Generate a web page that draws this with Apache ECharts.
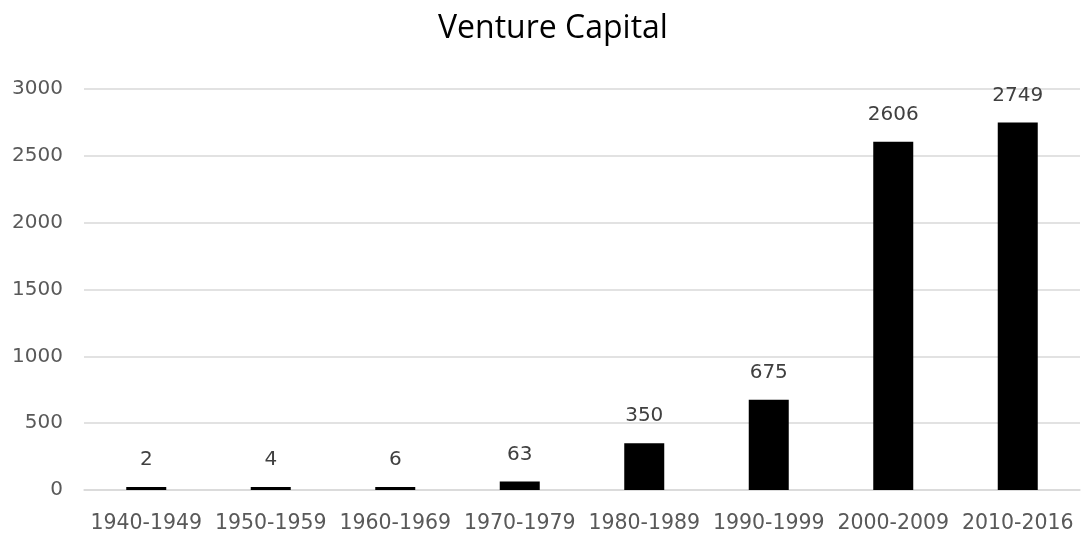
<!DOCTYPE html>
<html>
<head>
<meta charset="utf-8">
<script src="https://cdn.jsdelivr.net/npm/echarts@6/dist/echarts.min.js"></script>
<style>html,body{margin:0;padding:0;background:#fff;}#c{width:1081px;height:536px;}</style>
</head>
<body>
<div id="c"></div>
<script>
var titleText = 'Venture Capital';
var categories = ['1940-1949','1950-1959','1960-1969','1970-1979','1980-1989','1990-1999','2000-2009','2010-2016'];
var values = [2, 4, 6, 63, 350, 675, 2606, 2749];
var yMin = 0, yMax = 3000, yStep = 500;

var TFONT = '"Open Sans", sans-serif';
var FONT = '"DejaVu Sans", sans-serif';
var chart = echarts.init(document.getElementById('c'));
chart.setOption({
  animation: false,
  backgroundColor: '#fff',
  title: {
    text: titleText,
    left: 433,
    top: 8,
    textStyle: { fontFamily: TFONT, fontSize: 32, fontWeight: 'normal', color: '#000' }
  },
  grid: { left: 84, right: 1, top: 89, bottom: 46, containLabel: false },
  xAxis: {
    type: 'category',
    data: categories,
    axisLine: { show: true, lineStyle: { color: '#d9d9d9', width: 1.5 } },
    axisTick: { show: false },
    axisLabel: { fontFamily: FONT, fontSize: 20.5, color: '#595959', margin: 23, interval: 0 }
  },
  yAxis: {
    type: 'value',
    min: yMin, max: yMax, interval: yStep,
    axisLine: { show: false },
    axisTick: { show: false },
    splitLine: { lineStyle: { color: '#d9d9d9', width: 1.5 } },
    axisLabel: { fontFamily: FONT, fontSize: 20, color: '#595959', margin: 21,
      formatter: function (v) { return String(v); } }
  },
  series: [{
    type: 'bar',
    data: values,
    barWidth: 40,
    barMinHeight: 3,
    itemStyle: { color: '#000' },
    label: {
      show: true, position: 'top', distance: 17,
      fontFamily: FONT, fontSize: 20, color: '#404040'
    }
  }]
});
</script>
</body>
</html>
